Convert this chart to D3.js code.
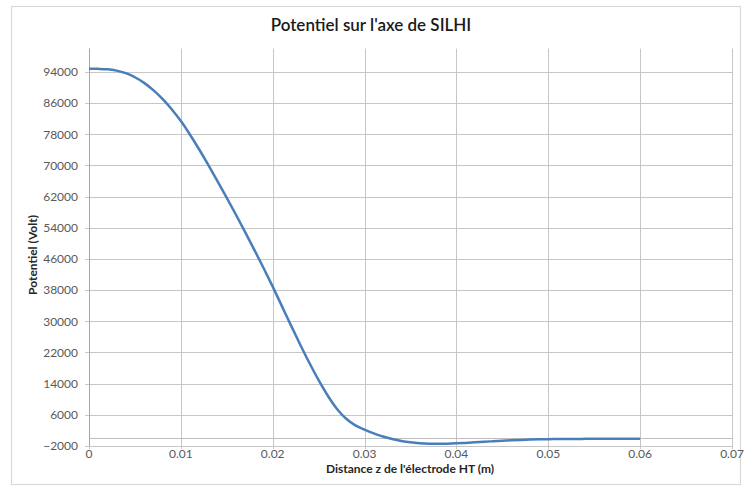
<!DOCTYPE html>
<html>
<head>
<meta charset="utf-8">
<script src="https://cdn.jsdelivr.net/npm/d3@7"></script>
<style>
  html, body { margin: 0; padding: 0; background: #fff; }
  svg { display: block; }
</style>
</head>
<body>
<svg id="chart" width="744" height="488"></svg>
<script>
// Axial potential along the SILHI source, sampled every millimetre
const distances = [
  0.000, 0.001, 0.002, 0.003, 0.004, 0.005, 0.006, 0.007, 0.008, 0.009,
  0.010, 0.011, 0.012, 0.013, 0.014, 0.015, 0.016, 0.017, 0.018, 0.019,
  0.020, 0.021, 0.022, 0.023, 0.024, 0.025, 0.026, 0.027, 0.028, 0.029,
  0.030, 0.031, 0.032, 0.033, 0.034, 0.035, 0.036, 0.037, 0.038, 0.039,
  0.040, 0.041, 0.042, 0.043, 0.044, 0.045, 0.046, 0.047, 0.048, 0.049,
  0.050, 0.051, 0.052, 0.053, 0.054, 0.055, 0.056, 0.057, 0.058, 0.059, 0.060
];
const potentials = [
  94800, 94800, 94700, 94350, 93700, 92650, 91200, 89350, 87100, 84450,
  81400, 77900, 74100, 70100, 65950, 61700, 57350, 52900, 48350, 43700,
  38900, 33900, 28900, 24000, 19300, 14900, 10900, 7500, 5000, 3300,
  2200, 1250, 450, -200, -700, -1050, -1280, -1400, -1430, -1400,
  -1320, -1200, -1060, -920, -780, -650, -530, -430, -350, -290,
  -240, -210, -190, -180, -170, -165, -160, -160, -160, -160, -160
];
const xTicks = [0, 0.01, 0.02, 0.03, 0.04, 0.05, 0.06, 0.07];
const yTicks = [-2000, 6000, 14000, 22000, 30000, 38000, 46000, 54000, 62000, 70000, 78000, 86000, 94000];

const titleText = "Potentiel sur l'axe de SILHI";
const xTitle = "Distance z de l'électrode HT (m)";
const yTitle = "Potentiel (Volt)";

const svg = d3.select("#chart");
const font = "Lato, 'Open Sans', sans-serif";

// chart frame
svg.append("rect")
  .attr("x", 11.5).attr("y", 6.5)
  .attr("width", 729).attr("height", 478)
  .attr("fill", "#fff")
  .attr("stroke", "#d9d9d9").attr("stroke-width", 1.2);

const plot = { left: 89, right: 732, top: 48.6, bottom: 446 };

const x = d3.scaleLinear().domain([0, 0.07]).range([plot.left, plot.right]);
const y = d3.scaleLinear().domain([-2000, 100000]).range([plot.bottom, plot.top]);

// horizontal gridlines
svg.append("g").selectAll("line").data(yTicks).join("line")
  .attr("x1", plot.left - 4).attr("x2", plot.right)
  .attr("y1", d => Math.round(y(d)) + 0.5).attr("y2", d => Math.round(y(d)) + 0.5)
  .attr("stroke", "#c6c6c6").attr("stroke-width", 1);

// vertical gridlines
svg.append("g").selectAll("line").data(xTicks).join("line")
  .attr("y1", plot.top).attr("y2", plot.bottom + 3)
  .attr("x1", d => Math.round(x(d)) + 0.5).attr("x2", d => Math.round(x(d)) + 0.5)
  .attr("stroke", "#c6c6c6").attr("stroke-width", 1);

// horizontal axis line crossing at zero
svg.append("line")
  .attr("x1", plot.left).attr("x2", plot.right)
  .attr("y1", Math.round(y(0)) + 0.5).attr("y2", Math.round(y(0)) + 0.5)
  .attr("stroke", "#bdbdbd").attr("stroke-width", 1);

// vertical axis line
svg.append("line")
  .attr("x1", plot.left + 0.5).attr("x2", plot.left + 0.5)
  .attr("y1", plot.top).attr("y2", plot.bottom)
  .attr("stroke", "#a6a6a6").attr("stroke-width", 1);

// y tick labels
svg.append("g").selectAll("text").data(yTicks).join("text")
  .attr("x", 78).attr("y", d => y(d))
  .attr("dy", "0.35em")
  .attr("text-anchor", "end")
  .attr("font-family", font).attr("font-size", 12)
  .attr("fill", "#595959")
  .text(d => d3.format("d")(d));

// x tick labels
svg.append("g").selectAll("text").data(xTicks).join("text")
  .attr("x", d => x(d)).attr("y", 454)
  .attr("dy", "0.35em")
  .attr("text-anchor", "middle")
  .attr("font-family", font).attr("font-size", 12)
  .attr("fill", "#595959")
  .text(d => d === 0 ? "0" : d3.format(".2f")(d));

// potential curve
const line = d3.line()
  .x((d, i) => x(distances[i]))
  .y(d => y(d))
  .curve(d3.curveCatmullRom.alpha(0.5));

svg.append("path")
  .datum(potentials)
  .attr("d", line)
  .attr("fill", "none")
  .attr("stroke", "#4a7ebb")
  .attr("stroke-width", 2.5)
  .attr("stroke-linejoin", "round");

// titles
svg.append("text")
  .attr("x", 371).attr("y", 31)
  .attr("text-anchor", "middle")
  .attr("font-family", font).attr("font-size", 17)
  .attr("font-weight", 600)
  .attr("fill", "#1a1a1a")
  .text(titleText);

svg.append("text")
  .attr("x", 410).attr("y", 473)
  .attr("text-anchor", "middle")
  .attr("font-family", font).attr("font-size", 12)
  .attr("font-weight", "bold")
  .attr("fill", "#262626")
  .text(xTitle);

svg.append("text")
  .attr("transform", "translate(37,255) rotate(-90)")
  .attr("text-anchor", "middle")
  .attr("font-family", font).attr("font-size", 12)
  .attr("font-weight", "bold")
  .attr("fill", "#262626")
  .text(yTitle);
</script>
</body>
</html>
